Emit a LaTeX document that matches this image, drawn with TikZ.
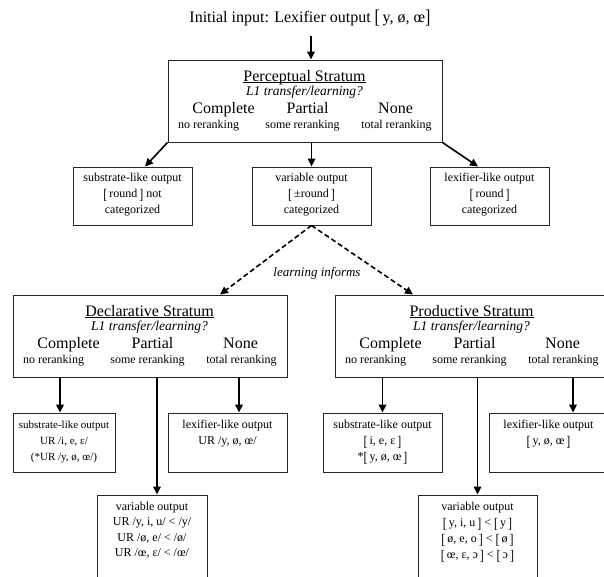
\documentclass[tikz,border=0pt]{standalone}
\usepackage{graphicx}
\usepackage{fontspec}
\setmainfont{Liberation Serif}
\usetikzlibrary{arrows.meta}
\newcommand\LB{\raisebox{-0.12em}{\scalebox{1}[1.22]{[}}}
\newcommand\RB{\raisebox{-0.12em}{\scalebox{1}[1.22]{]}}}
\newcommand\myul[1]{\underline{\smash{#1}\vphantom{a}}}
\newcommand\stratumtext[2]{%
  \node[bigt] (#1-t) at ([shift={(137,21.5)}]#1.north west) {\myul{#2}};
  \node[itat] (#1-q) at ([shift={(137,36)}]#1.north west) {L1 transfer/learning?};
  \node[bigt] (#1-c) at ([shift={(56,53.5)}]#1.north west) {Complete};
  \node[bigt] (#1-p) at ([shift={(140,53.5)}]#1.north west) {Partial};
  \node[bigt] (#1-n) at ([shift={(228,53.5)}]#1.north west) {None};
  \node[smlt] (#1-cs) at ([shift={(41,68.5)}]#1.north west) {no reranking};
  \node[smlt] (#1-ps) at ([shift={(135,68.5)}]#1.north west) {some reranking};
  \node[smlt] (#1-ns) at ([shift={(229,68.5)}]#1.north west) {total reranking};
}
\begin{document}
\begin{tikzpicture}[x=1pt,y=-1pt,
  box/.style={draw=black!85, line width=0.9pt, rectangle, inner sep=0pt},
  arr/.style={line width=1.6pt, -{Triangle[length=8pt,width=7.5pt]}},
  darr/.style={arr, dash pattern=on 5pt off 3pt},
  bigt/.style={font=\fontsize{16}{18}\selectfont, anchor=base, inner sep=0pt},
  smlt/.style={font=\fontsize{12}{14}\selectfont, anchor=base, inner sep=0pt},
  itat/.style={font=\fontsize{13.5}{15}\selectfont\itshape, anchor=base, inner sep=0pt},
  txt/.style={font=\fontsize{12}{16}\selectfont, align=center, anchor=north, inner sep=0pt},
  stbox/.style={box, minimum width=274pt, minimum height=82pt},
  obox/.style={box, minimum width=119pt, minimum height=58pt},
]
\useasboundingbox (0,0) rectangle (604,576);
\clip (0,0) rectangle (604,576);

% title
\node[font=\fontsize{16}{18}\selectfont, anchor=base, inner sep=0pt] (init) at (310,22)
  {Initial input: Lexifier output \LB\,y, ø, œ\RB};
\coordinate (topin) at (311,36);

% perceptual stratum
\node[stbox] (perc) at (305,101) {};
\stratumtext{perc}{Perceptual Stratum}

\node[obox] (ssub) at (132.5,196) {};
\node[txt] (ssub-x) at ([yshift=-6.5pt]ssub.north) {substrate-like output\\ \LB\,round\,\RB{} not\\ categorized};
\node[obox] (svar) at (311.5,196) {};
\node[txt] (svar-x) at ([yshift=-6.5pt]svar.north) {variable output\\ \LB\,±round\,\RB\\ categorized};
\node[obox] (slex) at (489.5,196) {};
\node[txt] (slex-x) at ([yshift=-6.5pt]slex.north) {lexifier-like output\\ \LB\,round\,\RB\\ categorized};

\draw[arr] (topin) -- (topin |- perc.north);
\draw[arr] (perc.south west) -- ([xshift=12.5pt]ssub.north);
\draw[arr] (svar.north |- perc.south) -- (svar.north);
\draw[arr] (perc.south east) -- ([xshift=-11.5pt]slex.north);

% learning informs
\node[stbox] (decl) at (150,336) {};
\stratumtext{decl}{Declarative Stratum}
\node[stbox] (prod) at (472,336) {};
\stratumtext{prod}{Productive Stratum}

\draw[darr] (svar.south) -- ([xshift=70pt]decl.north);
\draw[darr] (svar.south) -- ([xshift=-59pt]prod.north);
\node[itat, font=\fontsize{13}{15}\selectfont\itshape] (learn) at (317,276) {learning informs};

% declarative outputs
\node[box, minimum width=102pt, minimum height=59pt] (dsub) at (64,442.5) {};
\node[txt, font=\fontsize{11}{16}\selectfont] (dsub-x) at ([yshift=-8pt]dsub.north) {substrate-like output\\ UR /i, e, ɛ/\\ (*UR /y, ø, œ/)};
\node[box, minimum width=119pt, minimum height=59pt] (dlex) at (227.5,442.5) {};
\node[txt] (dlex-x) at ([yshift=-7.5pt]dlex.north) {lexifier-like output\\ UR /y, ø, œ/};
\node[box, minimum width=110pt, minimum height=105pt] (dvar) at (152,547.5) {};
\node[txt, font=\fontsize{12}{15.3}\selectfont] (dvar-x) at ([yshift=-7.5pt]dvar.north) {variable output\\ UR /y, i, u/ < /y/\\ UR /ø, e/ < /ø/\\ UR /œ, ɛ/ < /œ/};

\coordinate (d1) at ([xshift=-4pt]dsub.north);
\coordinate (d2) at ([xshift=5pt]dvar.north);
\coordinate (d3) at ([xshift=11.5pt]dlex.north);
\draw[arr] (d1 |- decl.south) -- (d1);
\draw[arr] (d2 |- decl.south) -- (d2);
\draw[arr] (d3 |- decl.south) -- (d3);

% productive outputs
\node[box, minimum width=119pt, minimum height=59pt] (psub) at (382.5,442.5) {};
\node[txt] (psub-x) at ([yshift=-7.5pt]psub.north) {substrate-like output\\ \LB\,i, e, ɛ\,\RB\\ *\LB\,y, ø, œ\,\RB};
\node[box, minimum width=119pt, minimum height=59pt] (plex) at (548.5,442.5) {};
\node[txt] (plex-x) at ([yshift=-7.5pt]plex.north) {lexifier-like output\\ \LB\,y, ø, œ\,\RB};
\node[box, minimum width=119pt, minimum height=105pt] (pvar) at (477.5,547.5) {};
\node[txt] (pvar-x) at ([yshift=-7.5pt]pvar.north) {variable output\\ \LB\,y, i, u\,\RB{} < \LB\,y\,\RB\\ \LB\,ø, e, o\,\RB{} < \LB\,ø\,\RB\\ \LB\,œ, ɛ, ɔ\,\RB{} < \LB\,ɔ\,\RB};

\coordinate (p1) at (psub.north);
\coordinate (p2) at (pvar.north);
\coordinate (p3) at ([xshift=24.5pt]plex.north);
\draw[arr] (p1 |- prod.south) -- (p1);
\draw[arr] (p2 |- prod.south) -- (p2);
\draw[arr] (p3 |- prod.south) -- (p3);
\end{tikzpicture}
\end{document}
